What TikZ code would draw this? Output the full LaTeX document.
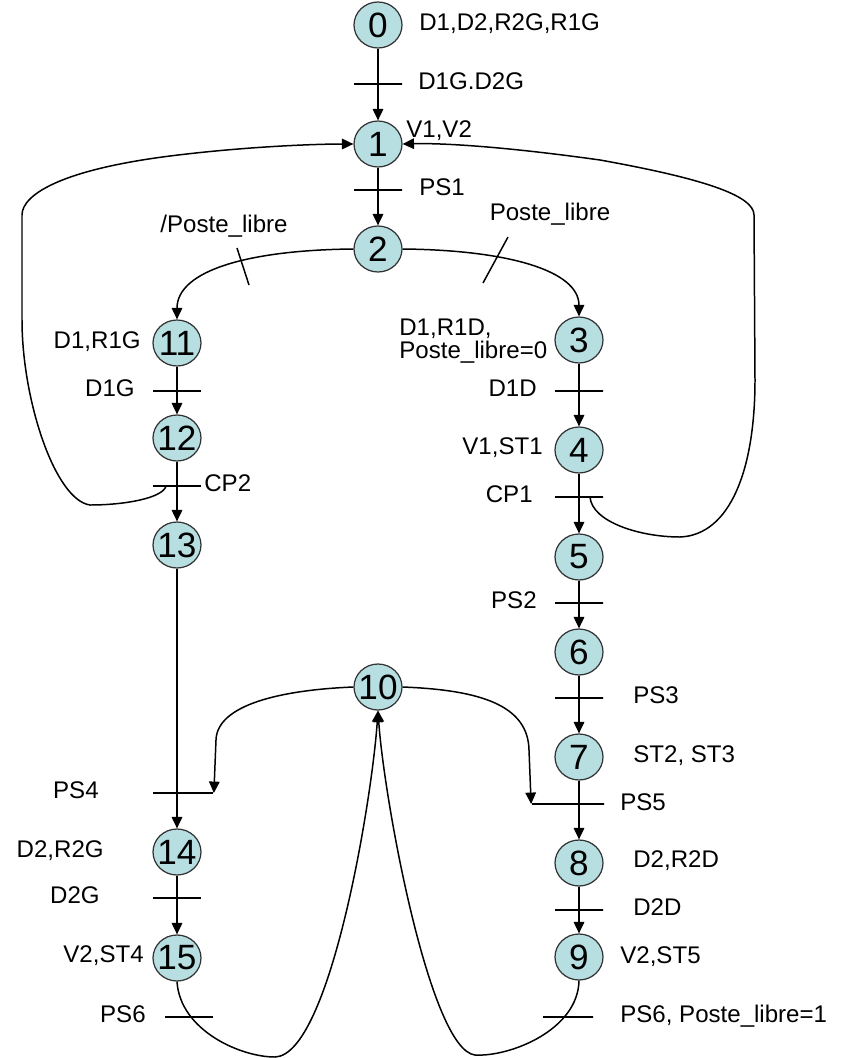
\documentclass[tikz,border=0pt]{standalone}
\usepackage{xcolor}
\usepackage{mathtools}
\usepackage{fontspec}
\setmainfont{Liberation Sans}
\usepackage{tikz}
\usetikzlibrary{shapes.geometric, arrows.meta, positioning}
\definecolor{etapebleu}{RGB}{183,222,225}

\begin{document}
\begin{tikzpicture}[x=0.02cm, y=-0.02cm, % 1 unit = 1 pixel of the slide
        etape/.style={ellipse, draw=black!80, line width=0.7pt, fill=etapebleu,
            minimum width=0.96cm, minimum height=0.92cm, inner sep=0pt,
            font=\fontsize{20}{20}\selectfont},
        barre/.style={draw, line width=1pt, inner sep=0pt, minimum height=0pt, minimum width=#1},
        barre/.default=0.96cm,
        texte/.style={inner sep=0pt, text height=0.95em, text depth=0.28em,
            font=\fontsize{13.7}{13}\selectfont},
        fleche/.style={line width=0.85pt, -{Triangle[length=6.5pt,width=6pt]}},
        lien/.style={line width=0.85pt}]
        \useasboundingbox (0,0) rectangle (862,1058);

        % Define the steps
        \node[etape] (e0) at (378,25) {0};
        \node[etape] (e1) at (378,144) {1};
        \node[etape] (e2) at (378,249) {2};
        \node[etape] (e11) at (177,343) {\clap{11}};
        \node[etape] (e12) at (177,438) {\clap{12}};
        \node[etape] (e13) at (177,545) {\clap{13}};
        \node[etape] (e14) at (177,852) {\clap{14}};
        \node[etape] (e15) at (177,958) {\clap{15}};
        \node[etape] (e3) at (579,340) {3};
        \node[etape] (e4) at (579,450) {4};
        \node[etape] (e5) at (579,557) {5};
        \node[etape] (e6) at (579,652) {6};
        \node[etape] (e7) at (579,757) {7};
        \node[etape] (e8) at (579,863) {8};
        \node[etape] (e9) at (579,957) {9};
        \node[etape] (e10) at (378,687) {\clap{10}};

        % Define the transitions
        \node[barre] (t01) at (378,84) {};
        \node[barre] (t12) at (378,190) {};
        \node[barre] (t1112) at (177,391) {};
        \node[barre] (tcp2) at (177,486) {};
        \node[barre] (t34) at (579,391) {};
        \node[barre] (tcp1) at (579,497) {};
        \node[barre] (t56) at (579,603) {};
        \node[barre] (t67) at (579,698) {};
        \node[barre=1.2cm] (tps4) at (183,793) {};
        \node[barre=1.44cm] (tps5) at (568,804) {};
        \node[barre] (t1415) at (177,898) {};
        \node[barre] (t89) at (579,910) {};
        \node[barre] (tps6g) at (189,1017) {};
        \node[barre=1cm] (tps6d) at (568,1017) {};
        \coordinate (dcp2) at (166,486);
        \coordinate (dcp1) at (590,497);

        % Draw the links
        \draw[fleche] (e0) -- (e1);
        \draw[fleche] (e1) -- (e2);
        \draw[fleche] (e11) -- (e12);
        \draw[fleche] (e12) -- (e13);
        \draw[fleche] (e13) -- (e14);
        \draw[fleche] (e14) -- (e15);
        \draw[fleche] (e3) -- (e4);
        \draw[fleche] (e4) -- (e5);
        \draw[fleche] (e5) -- (e6);
        \draw[fleche] (e6) -- (e7);
        \draw[fleche] (e7) -- (e8);
        \draw[fleche] (e8) -- (e9);
        \draw[fleche] (e2.west) .. controls (250,250) and (177,270) .. (e11.north);
        \draw[fleche] (e2.east) .. controls (506,250) and (579,270) .. (e3.north);
        \draw[lien] (237,248) -- (249,285);
        \draw[lien] (508,237) -- (483,283);
        \draw[fleche] (dcp2) .. controls (163,498) and (125,505) .. (90,505)
            .. controls (55,500) and (22,400) .. (22,320) -- (22,215)
            .. controls (22,195) and (60,170) .. (170,156)
            .. controls (250,146) and (320,144) .. (e1.west);
        \draw[fleche] (dcp1) .. controls (592,522) and (640,537) .. (680,537)
            .. controls (730,535) and (755,470) .. (755,380) -- (754,215)
            .. controls (754,195) and (700,178) .. (600,160)
            .. controls (500,146) and (440,143) .. (e1.east);
        \draw[fleche] (e10.west) .. controls (280,690) and (217,705) .. (216,740) -- (tps4.east);
        \draw[fleche] (e10.east) .. controls (480,690) and (528,705) .. (529,750) -- (tps5.west);
        \draw[fleche] (e15.south) .. controls (180,1030) and (240,1057) .. (275,1057)
            .. controls (330,1055) and (372,800) .. (e10.south);
        \draw[fleche] (e9.south) .. controls (578,1030) and (510,1057) .. (475,1055)
            .. controls (430,1050) and (384,800) .. (e10.south);

        % Label the steps and transitions
        \node[texte, anchor=west] (a0) at (419,25) {D1,D2,R2G,R1G};
        \node[texte, anchor=west] (r01) at (418,84) {D1G.D2G};
        \node[texte, anchor=west] (a1) at (406,132) {V1,V2};
        \node[texte, anchor=west] (r12) at (419,190) {PS1};
        \node[texte] (r211) at (224,227) {/Poste\_libre};
        \node[texte] (r23) at (550,215) {Poste\_libre};
        \node[texte, anchor=east] (a11) at (141,343) {D1,R1G};
        \node[inner sep=0pt, anchor=north west, align=left,
            font=\fontsize{13.7}{13}\selectfont] (a3) at (399,319) {D1,R1D,\\Poste\_libre=0};
        \node[texte, anchor=east] (r1112) at (135,391) {D1G};
        \node[texte, anchor=east] (r34) at (537,391) {D1D};
        \node[texte, anchor=east] (a4) at (543,449) {V1,ST1};
        \node[texte, anchor=west] (rcp2) at (204,486) {CP2};
        \node[texte, anchor=east] (rcp1) at (533,497) {CP1};
        \node[texte, anchor=east] (r56) at (537,603) {PS2};
        \node[texte, anchor=west] (r67) at (633,698) {PS3};
        \node[texte, anchor=west] (a7) at (633,757) {ST2, ST3};
        \node[texte, anchor=east] (rps4) at (99,793) {PS4};
        \node[texte, anchor=west] (rps5) at (620,805) {PS5};
        \node[texte, anchor=east] (a14) at (104,852) {D2,R2G};
        \node[texte, anchor=west] (a8) at (633,862) {D2,R2D};
        \node[texte, anchor=east] (r1415) at (100,898) {D2G};
        \node[texte, anchor=west] (r89) at (633,910) {D2D};
        \node[texte, anchor=east] (a15) at (144,957) {V2,ST4};
        \node[texte, anchor=west] (a9) at (620,958) {V2,ST5};
        \node[texte, anchor=east] (rps6g) at (146,1017) {PS6};
        \node[texte, anchor=west] (rps6d) at (620,1017) {PS6, Poste\_libre=1};
    \end{tikzpicture}
\end{document}
